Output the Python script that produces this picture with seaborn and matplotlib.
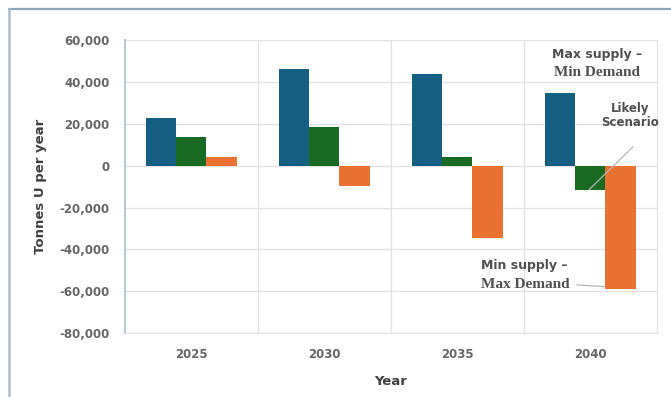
import matplotlib
matplotlib.use("Agg")
import matplotlib.pyplot as plt
from matplotlib.lines import Line2D
from matplotlib.ticker import FuncFormatter, FixedLocator
import seaborn as sns
import pandas as pd

# Uranium supply minus demand by scenario
years = ["2025", "2030", "2035", "2040"]
max_supply_min_demand = [23000, 46000, 44000, 34500]
likely_scenario = [13500, 18500, 4000, -11500]
min_supply_max_demand = [4000, -9500, -34500, -59000]
scenarios = ["Max supply – Min Demand", "Likely Scenario", "Min supply – Max Demand"]
y_ticks = [60000, 40000, 20000, 0, -20000, -40000, -60000, -80000]

df = pd.DataFrame({
    "Year": years * 3,
    "Value": max_supply_min_demand + likely_scenario + min_supply_max_demand,
    "Scenario": [scenarios[0]] * 4 + [scenarios[1]] * 4 + [scenarios[2]] * 4,
})

palette = {scenarios[0]: "#156082", scenarios[1]: "#196B24", scenarios[2]: "#E97132"}

sns.set_style("white")
plt.rcParams["font.family"] = ["DejaVu Sans"]

fig = plt.figure(figsize=(6.71, 3.97), dpi=100)
ax = fig.add_axes([0.186, 0.161, 0.793, 0.738])

sns.barplot(data=df, x="Year", y="Value", hue="Scenario", order=years,
            hue_order=scenarios, palette=palette, width=0.68, ax=ax,
            legend=False, saturation=1, edgecolor="none")

ax.set_xlim(-0.5, 3.5)
ax.set_ylim(-80000, 60000)
ax.yaxis.set_major_locator(FixedLocator(y_ticks))
ax.yaxis.set_major_formatter(FuncFormatter(lambda v, p: f"{int(v):,}"))
ax.xaxis.set_minor_locator(FixedLocator([0.5, 1.5, 2.5]))

ax.grid(axis="y", which="major", color="#e3e3e3", lw=1)
ax.grid(axis="x", which="minor", color="#e3e3e3", lw=1)
ax.set_axisbelow(True)

ax.spines["top"].set_visible(False)
ax.spines["left"].set_color("#b9ccd6")
ax.spines["left"].set_linewidth(1.5)
ax.spines["bottom"].set_color("#e3e3e3")
ax.spines["right"].set_color("#e3e3e3")

ax.tick_params(axis="both", which="both", length=0, labelsize=8.5,
               labelcolor="#666666")
ax.tick_params(axis="y", pad=11)
ax.tick_params(axis="x", pad=11)
for lab in ax.get_xticklabels() + ax.get_yticklabels():
    lab.set_fontweight("bold")

ax.set_xlabel("Year", fontsize=9.5, fontweight="bold", color="#404040", labelpad=10)
ax.set_ylabel("Tonnes U per year", fontsize=9.5, fontweight="bold",
              color="#404040", labelpad=9)

# Scenario callouts
txt = "#505050"
ax.text(3.05, 53200, "Max supply –", ha="center", va="center", fontsize=9,
        fontweight="bold", color=txt)
ax.text(3.05, 44600, "Min Demand", ha="center", va="center", fontsize=11,
        fontweight="bold", color=txt, family="Liberation Serif")
ax.text(3.30, 24000, "Likely\nScenario", ha="center", va="center", fontsize=8.5,
        fontweight="bold", color=txt, linespacing=1.15)
ax.text(2.18, -47600, "Min supply –", ha="left", va="center", fontsize=9,
        fontweight="bold", color=txt)
ax.text(2.18, -57000, "Max Demand", ha="left", va="center", fontsize=11,
        fontweight="bold", color=txt, family="Liberation Serif")

ax.plot([3.32, 2.99], [9000, -11500], color="#b5b5b5", lw=0.9)
ax.plot([2.90, 3.11], [-57000, -57800], color="#b5b5b5", lw=0.9)

# Frame edges along the top and left of the figure
fig.add_artist(Line2D([9 / 671, 1], [1 - 9 / 397, 1 - 9 / 397],
                      transform=fig.transFigure, color="#8aa7ba", lw=1.6))
fig.add_artist(Line2D([9 / 671, 9 / 671], [0, 1 - 9 / 397],
                      transform=fig.transFigure, color="#a9bfcd", lw=1.8))

fig.savefig("out.png", dpi=100)
